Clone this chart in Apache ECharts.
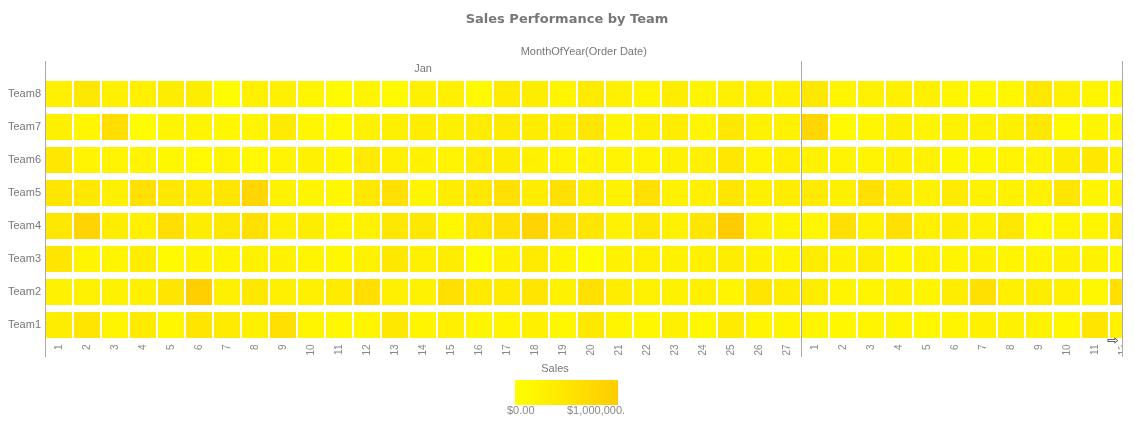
<!DOCTYPE html>
<html>
<head>
<meta charset="utf-8">
<script src="https://cdn.jsdelivr.net/npm/echarts@6/dist/echarts.min.js"></script>
<style>html,body{margin:0;padding:0;background:#fff;}#chart{width:1134px;height:431px;}</style>
</head>
<body>
<div id="chart"></div>
<script>
// ---- data ----
const teams = ['Team1','Team2','Team3','Team4','Team5','Team6','Team7','Team8'];
const janDays = ['1','2','3','4','5','6','7','8','9','10','11','12','13','14','15','16','17','18','19','20','21','22','23','24','25','26','27'];
const febDays = ['1','2','3','4','5','6','7','8','9','10','11','12'];
const salesMin = 0;
const salesMax = 1000000;
const legendLabels = ['$0.00', '$1,000,000.0'];
// sales per team: Jan 1..27 then Feb 1..12
const team1Sales = [350000,500000,200000,400000,150000,500000,400000,300000,600000,200000,150000,200000,450000,200000,300000,200000,200000,300000,150000,450000,200000,150000,300000,150000,400000,200000,200000, 200000,150000,200000,200000,150000,200000,300000,250000,250000,150000,500000,250000];
const team2Sales = [250000,250000,250000,300000,500000,950000,300000,450000,300000,300000,400000,650000,300000,250000,600000,400000,400000,500000,250000,600000,350000,250000,250000,300000,200000,500000,350000, 350000,200000,200000,250000,200000,350000,600000,300000,350000,300000,150000,600000];
const team3Sales = [500000,200000,200000,350000,100000,200000,200000,250000,250000,200000,150000,250000,450000,300000,350000,50000,250000,400000,200000,50000,250000,300000,250000,300000,350000,250000,200000, 350000,250000,350000,150000,250000,200000,250000,200000,200000,250000,250000,150000];
const team4Sales = [450000,850000,350000,300000,650000,350000,450000,600000,300000,350000,200000,250000,450000,450000,150000,500000,600000,850000,600000,500000,250000,450000,250000,500000,1000000,250000,200000, 150000,600000,250000,600000,300000,350000,250000,450000,100000,200000,200000,450000];
const team5Sales = [500000,450000,300000,600000,450000,400000,500000,800000,250000,200000,150000,450000,600000,200000,350000,450000,600000,350000,600000,350000,250000,600000,250000,300000,500000,300000,350000, 400000,300000,600000,400000,250000,400000,250000,250000,250000,500000,200000,250000];
const team6Sales = [450000,200000,200000,200000,150000,100000,200000,100000,200000,250000,150000,400000,300000,250000,200000,350000,350000,250000,200000,200000,200000,200000,250000,300000,450000,200000,300000, 250000,200000,200000,250000,250000,150000,150000,200000,200000,350000,450000,250000];
const team7Sales = [300000,150000,650000,50000,200000,200000,150000,200000,400000,150000,100000,250000,300000,350000,300000,350000,400000,350000,350000,500000,200000,300000,350000,200000,450000,250000,250000, 800000,100000,150000,300000,200000,250000,250000,300000,450000,100000,200000,200000];
const team8Sales = [300000,450000,300000,300000,350000,350000,50000,300000,300000,200000,100000,200000,100000,300000,300000,100000,400000,350000,200000,400000,300000,200000,350000,200000,300000,300000,300000, 450000,200000,250000,300000,300000,200000,150000,150000,450000,300000,200000,150000];
const teamSales = [team1Sales,team2Sales,team3Sales,team4Sales,team5Sales,team6Sales,team7Sales,team8Sales];

// ---- build ----
const categories = janDays.map(d => 'Jan ' + d).concat(febDays.map(d => 'Feb ' + d));
const points = [];
teamSales.forEach((arr, ti) => arr.forEach((v, ci) => points.push([ci, ti, v])));

const gridLeft = 45, gridTop = 77.5, pitch = 28, rowH = 33;
const gridWidth = categories.length * pitch;
const gridHeight = teams.length * rowH;
const sepX = gridLeft + janDays.length * pitch;
const clipX = 1122.5;
const lineTop = 61, lineBottom = 357;

const chart = echarts.init(document.getElementById('chart'), null, {renderer: 'canvas'});
const grey = '#777';
chart.setOption({
  animation: false,
  backgroundColor: '#fff',
  title: {
    text: 'Sales Performance by Team',
    left: 'center', top: 8,
    textStyle: {fontFamily: 'DejaVu Sans', fontWeight: 'bold', fontSize: 13, color: '#777'}
  },
  grid: {left: gridLeft, top: gridTop, width: gridWidth, height: gridHeight, containLabel: false, outerBoundsMode: 'none'},
  xAxis: {
    type: 'category', data: categories,
    axisLine: {show: false}, axisTick: {show: false}, splitLine: {show: false},
    axisLabel: {
      interval: 0, rotate: 90, margin: 3,
      fontFamily: 'Liberation Sans', fontSize: 10, color: '#888',
      formatter: v => v.split(' ')[1]
    }
  },
  yAxis: {
    type: 'category', data: teams,
    axisLine: {show: false}, axisTick: {show: false}, splitLine: {show: false},
    axisLabel: {margin: 4, fontFamily: 'Liberation Sans', fontSize: 11, color: grey}
  },
  visualMap: {
    type: 'continuous', show: false, dimension: 2,
    min: salesMin, max: salesMax,
    inRange: {color: ['#FFFF00', '#FFCC00']}
  },
  series: [{
    type: 'scatter', symbol: 'rect', symbolSize: [26, 26],
    data: points, silent: true, clip: false,
    itemStyle: {opacity: 1}
  }],
  graphic: [
    {type: 'text', x: (gridLeft + clipX) / 2, y: 52, style: {text: 'MonthOfYear(Order Date)', fill: grey, font: '11px "Liberation Sans"', textAlign: 'center', textVerticalAlign: 'middle'}},
    {type: 'text', x: (gridLeft + sepX) / 2, y: 69, style: {text: 'Jan', fill: grey, font: '11px "Liberation Sans"', textAlign: 'center', textVerticalAlign: 'middle'}},
    {type: 'rect', z: 100, shape: {x: clipX, y: 0, width: 20, height: 431}, style: {fill: '#fff'}},
    {type: 'line', z: 101, shape: {x1: gridLeft + 0.5, y1: lineTop, x2: gridLeft + 0.5, y2: lineBottom}, style: {stroke: '#aaa', lineWidth: 1}},
    {type: 'line', z: 101, shape: {x1: sepX + 0.5, y1: lineTop, x2: sepX + 0.5, y2: lineBottom}, style: {stroke: '#aaa', lineWidth: 1}},
    {type: 'line', z: 101, shape: {x1: clipX, y1: lineTop, x2: clipX, y2: lineBottom}, style: {stroke: '#aaa', lineWidth: 1}},
    {type: 'rect', z: 101, shape: {x: 1106, y: 339.5, width: 15, height: 7}, style: {fill: '#fff'}},
    {type: 'text', z: 102, x: 1113, y: 341, style: {text: '\u21E8', fill: '#333', font: '14px "DejaVu Sans"', textAlign: 'center', textVerticalAlign: 'middle'}},
    // legend
    {type: 'text', x: 555, y: 369, style: {text: 'Sales', fill: grey, font: '11px "Liberation Sans"', textAlign: 'center', textVerticalAlign: 'middle'}},
    {type: 'rect', shape: {x: 515, y: 380, width: 103, height: 25},
      style: {fill: new echarts.graphic.LinearGradient(0, 0, 1, 0, [{offset: 0, color: '#FFFF00'}, {offset: 1, color: '#FFCC00'}])}},
    {type: 'text', x: 507, y: 411, style: {text: legendLabels[0], fill: '#888', font: '11px "Liberation Sans"', textAlign: 'left', textVerticalAlign: 'middle'}},
    {type: 'text', x: 567, y: 411, style: {text: legendLabels[1], fill: '#888', font: '11px "Liberation Sans"', textAlign: 'left', textVerticalAlign: 'middle'}},
    {type: 'rect', z: 50, shape: {x: 625, y: 404, width: 20, height: 14}, style: {fill: '#fff'}}
  ]
});
</script>
</body>
</html>
